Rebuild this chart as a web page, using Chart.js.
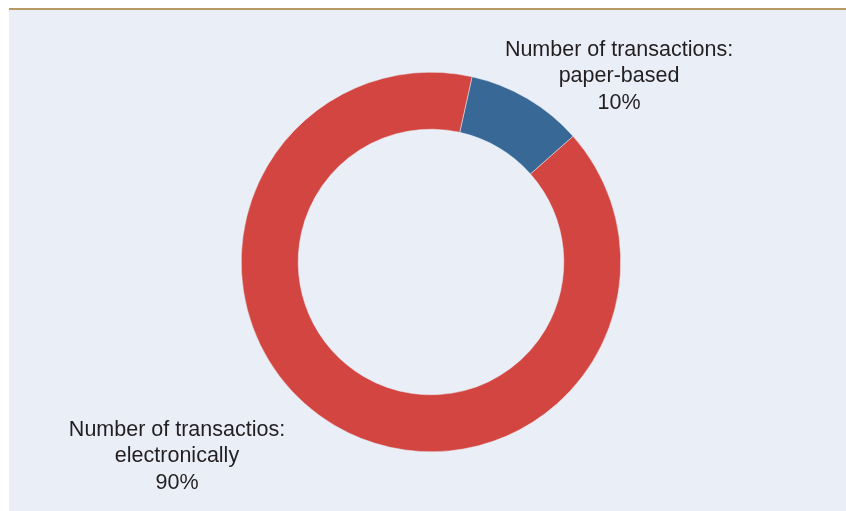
<!DOCTYPE html>
<html>
<head>
<meta charset="utf-8">
<script src="https://cdn.jsdelivr.net/npm/chart.js@4/dist/chart.umd.min.js"></script>
<style>
  html, body { margin: 0; padding: 0; background: #fff; }
  #wrap { width: 846px; height: 511px; position: relative; }
</style>
</head>
<body>
<div id="wrap"><canvas id="shareChart" width="846" height="511"></canvas></div>
<script>
// data
var categories = ['Number of transactions: paper-based', 'Number of transactios: electronically'];
var shares = [10, 90];
var labelLines = [
    ['Number of transactions:', 'paper-based', '10%'],
    ['Number of transactios:', 'electronically', '90%']
];
var sliceColors = ['#376896', '#d34540'];

// panel background + gold rule at the top
var panelBg = {
    id: 'panelBg',
    beforeDraw: function(chart) {
        var ctx = chart.ctx;
        ctx.save();
        ctx.fillStyle = '#ffffff';
        ctx.fillRect(0, 0, chart.width, chart.height);
        ctx.fillStyle = '#e9eef7';
        ctx.fillRect(9, 9, chart.width - 9, chart.height - 9);
        ctx.fillStyle = '#b59a66';
        ctx.fillRect(9, 8, chart.width - 9, 2);
        ctx.restore();
    }
};

// slice labels, placed beside each slice
var sliceLabels = {
    id: 'sliceLabels',
    afterDraw: function(chart) {
        var ctx = chart.ctx;
        var anchors = [[619, 50], [177, 430]];
        ctx.save();
        ctx.font = '21.5px "Liberation Sans", Arial, sans-serif';
        ctx.fillStyle = '#231f20';
        ctx.textAlign = 'center';
        ctx.textBaseline = 'middle';
        labelLines.forEach(function(lines, i) {
            lines.forEach(function(t, j) {
                ctx.fillText(t, anchors[i][0], anchors[i][1] + j * 26.5);
            });
        });
        ctx.restore();
    }
};

var ctx = document.getElementById('shareChart').getContext('2d');
var shareChart = new Chart(ctx, {
    type: 'doughnut',
    data: {
        labels: categories,
        datasets: [{
            data: shares,
            backgroundColor: sliceColors,
            borderColor: '#e9eef7',
            borderWidth: 0.5
        }]
    },
    options: {
        responsive: false,
        animation: false,
        cutout: '70%',
        rotation: 12.5,
        layout: {
            padding: { left: 241, right: 225, top: 72, bottom: 59 }
        },
        plugins: {
            legend: { display: false },
            tooltip: { enabled: false }
        }
    },
    plugins: [panelBg, sliceLabels]
});
</script>
</body>
</html>
